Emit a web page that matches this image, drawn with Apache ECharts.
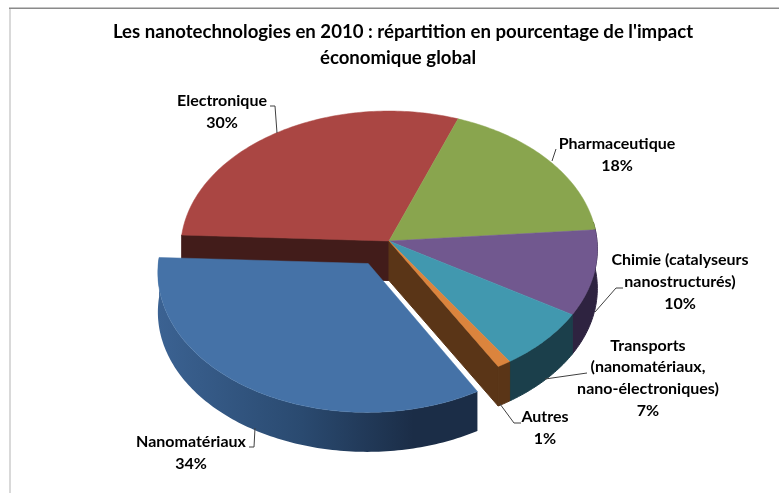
<!DOCTYPE html>
<html>
<head>
<meta charset="utf-8">
<style>
html, body { margin: 0; padding: 0; background: #fff; }
#chart { width: 779px; height: 493px; }
</style>
<script src="https://cdn.jsdelivr.net/npm/echarts@6/dist/echarts.min.js"></script>
</head>
<body>
<div id="chart"></div>
<script>
var titleLines = ["Les nanotechnologies en 2010 : répartition en pourcentage de l'impact", "économique global"];
var categories = ['Electronique', 'Pharmaceutique', 'Chimie (catalyseurs\nnanostructurés)', 'Transports\n(nanomatériaux,\nnano-électroniques)', 'Autres', 'Nanomatériaux'];
var values = [30, 18, 10, 7, 1, 34];
var explode = [0, 0, 0, 0, 0, 0.19];
var topColors = ['#aa4643', '#89a54e', '#71588f', '#4198af', '#db843d', '#4572a7'];
var wallColors = ['#421c1a', '#4a5a29', '#2e2340', '#1b3f4b', '#5a3517', '#2a4a70'];

// pie geometry, fitted on the picture
var cx = 389, cy = 241, rx = 208, ry = 137.5, persp = 0.058, depth = 39.5;
var startAngle = 177.5;

// label centres and leader lines
var labelPos = [[222, 112], [617, 155], [680, 282], [648, 378], [545, 428], [191, 453]];
var leaders = [
    [[270, 106], [275, 106], [277, 133]],
    [[556, 149], [552, 161]],
    [[623, 288], [616, 288], [595, 312]],
    [[587, 373], [545, 379]],
    [[521, 423], [514, 423], [500, 404]],
    [[249, 447], [254, 447], [255, 428]]
];

var total = 0;
for (var i = 0; i < values.length; i++) {
    total += values[i];
}

function project(t, off, down) {
    var r = t * Math.PI / 180;
    var gx = Math.cos(r) + off[0];
    var gy = Math.sin(r) + off[1];
    var s = 1 / (1 + persp * gy);
    return [cx + rx * gx * s, cy - ry * gy * s + down];
}

function arcPoints(a0, a1, off, down) {
    var pts = [];
    var n = Math.max(2, Math.ceil(Math.abs(a0 - a1)));
    for (var k = 0; k <= n; k++) {
        pts.push(project(a0 + (a1 - a0) * k / n, off, down));
    }
    return pts;
}

function poly(points, fill, strokeColor, strokeWidth) {
    return {
        type: 'polygon',
        shape: { points: points },
        style: { fill: fill, stroke: strokeColor, lineWidth: strokeWidth }
    };
}

function centerPoint(off, down) {
    var s = 1 / (1 + persp * off[1]);
    return [cx + rx * off[0] * s, cy - ry * off[1] * s + down];
}

function renderSlice(params, api) {
    var idx = params.dataIndex;
    var a0 = startAngle;
    for (var j = 0; j < idx; j++) {
        a0 -= values[j] / total * 360;
    }
    var a1 = a0 - values[idx] / total * 360;
    var mid = (a0 + a1) / 2 * Math.PI / 180;
    var off = [explode[idx] * Math.cos(mid), explode[idx] * Math.sin(mid)];
    var children = [];
    var apexTop = centerPoint(off, 0);
    var apexBottom = centerPoint(off, depth);
    var wallColor = wallColors[idx];

    // outer wall, front part of the rim only
    var w0 = Math.min(a0, 8);
    var w1 = Math.max(a1, -188);
    if (w0 > w1) {
        var wall = arcPoints(w0, w1, off, 0).concat(arcPoints(w1, w0, off, depth));
        if (explode[idx] > 0) {
            var grad = new echarts.graphic.LinearGradient(0, 0, 1, 0, [
                { offset: 0, color: '#3b6292' },
                { offset: 0.45, color: '#2a4a70' },
                { offset: 0.8, color: '#1b2d47' },
                { offset: 1, color: '#1b2d47' }
            ]);
            children.push(poly(wall, grad, null, 0));
        } else {
            children.push(poly(wall, wallColor, wallColor, 1));
        }
    }

    // cut faces: only seen beside the exploded slice
    if (explode[(idx + values.length - 1) % values.length] > 0) {
        children.push(poly([apexTop, project(a0, off, 0), project(a0, off, depth), apexBottom], wallColor, wallColor, 1));
    }
    if (explode[(idx + 1) % values.length] > 0) {
        children.push(poly([apexTop, project(a1, off, 0), project(a1, off, depth), apexBottom], wallColor, wallColor, 1));
    }

    // top face
    children.push(poly([apexTop].concat(arcPoints(a0, a1, off, 0)), topColors[idx], topColors[idx], 0.5));
    return { type: 'group', children: children };
}

var graphicItems = [
    { type: 'rect', shape: { x: 9, y: 8, width: 2, height: 485 }, style: { fill: '#d9d9d9' }, silent: true },
    { type: 'rect', shape: { x: 9, y: 7.5, width: 770, height: 1.5 }, style: { fill: '#8a8a8a' }, silent: true }
];
for (var m = 0; m < leaders.length; m++) {
    graphicItems.push({
        type: 'polyline',
        shape: { points: leaders[m] },
        style: { stroke: '#404040', lineWidth: 1, fill: null },
        z: 5
    });
}
for (var n = 0; n < categories.length; n++) {
    graphicItems.push({
        type: 'text',
        x: labelPos[n][0],
        y: labelPos[n][1],
        style: {
            text: categories[n] + '\n' + values[n] + '%',
            font: 'bold 16px Lato',
            fill: '#000',
            align: 'center',
            verticalAlign: 'middle',
            lineHeight: 21.7
        },
        z: 6
    });
}

var titleStyle = { fontFamily: 'Lato', fontWeight: 'bold', fontSize: 18.6, color: '#000' };
var chart = echarts.init(document.getElementById('chart'), null, { renderer: 'canvas' });
chart.setOption({
    animation: false,
    title: [
        { text: titleLines[0], left: 398, top: 17, textAlign: 'center', textStyle: titleStyle },
        { text: titleLines[1], left: 393, top: 43, textAlign: 'center', textStyle: titleStyle }
    ],
    graphic: { elements: graphicItems },
    series: [{
        type: 'custom',
        coordinateSystem: 'none',
        silent: true,
        data: values,
        renderItem: renderSlice
    }]
});
</script>
</body>
</html>
